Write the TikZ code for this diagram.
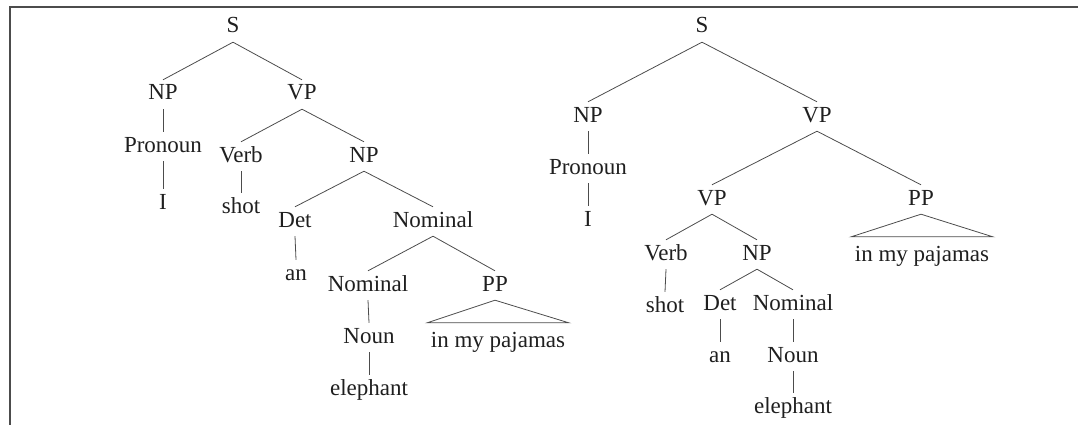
\documentclass[tikz,border=0pt]{standalone}
\usepackage{fontspec}
\newfontfamily\treefont{Liberation Serif}
\begin{document}
\begin{tikzpicture}[x=1pt,y=-1pt,
  tn/.style={anchor=base, text height=15pt, text depth=4pt, inner xsep=1pt, inner ysep=5pt,
    font=\treefont\fontsize{23}{27}\selectfont, text=black!88},
  trileaf/.style={tn, text height=19pt, inner xsep=3.5pt},
  edge/.style={draw=black!70, line width=0.8pt},
  frame/.style={draw=black!70, line width=1.4pt}]
\useasboundingbox (0,0) rectangle (1078,425);
\coordinate (fa) at (10,425);
\coordinate (fb) at (10,7);
\coordinate (fc) at (1078,7);
\draw[frame] (fa) -- (fb) -- (fc);

% left tree
\node[tn] (S1) at (233,33) {S};
\node[tn] (NP1) at (163,100) {NP};
\node[tn] (VP1) at (302,100) {VP};
\node[tn] (Pron1) at (163,152) {Pronoun};
\node[tn] (I1) at (163,209) {I};
\node[tn] (Verb1) at (241,162) {Verb};
\node[tn] (shot1) at (241,213) {shot};
\node[tn] (NP1b) at (364,162) {NP};
\node[tn] (Det1) at (295,227) {Det};
\node[tn] (an1) at (296,280) {an};
\node[tn] (Nom1) at (433,227) {Nominal};
\node[tn] (Nom1b) at (368,291) {Nominal};
\node[tn] (PP1) at (495,291) {PP};
\node[tn] (Noun1) at (369,343) {Noun};
\node[tn] (El1) at (369,395) {elephant};
\node[trileaf] (PJ1) at (498,347) {in my pajamas};

\draw[edge] (S1.south) -- (NP1.north);
\draw[edge] (S1.south) -- (VP1.north);
\draw[edge] (NP1.south) -- (Pron1.north);
\draw[edge] (Pron1.south) -- (I1.north);
\draw[edge] (VP1.south) -- (Verb1.north);
\draw[edge] (VP1.south) -- (NP1b.north);
\draw[edge] (Verb1.south) -- (shot1.north);
\draw[edge] (NP1b.south) -- (Det1.north);
\draw[edge] (NP1b.south) -- (Nom1.north);
\draw[edge] (Det1.south) -- (an1.north);
\draw[edge] (Nom1.south) -- (Nom1b.north);
\draw[edge] (Nom1.south) -- (PP1.north);
\draw[edge] (Nom1b.south) -- (Noun1.north);
\draw[edge] (Noun1.south) -- (El1.north);
\draw[edge] (PP1.south) -- (PJ1.north west) -- (PJ1.north east) -- cycle;

% right tree
\node[tn] (S2) at (702,33) {S};
\node[tn] (NP2) at (588,122) {NP};
\node[tn] (VP2) at (817,122) {VP};
\node[tn] (Pron2) at (588,174) {Pronoun};
\node[tn] (I2) at (588,226) {I};
\node[tn] (VP2b) at (712,205) {VP};
\node[tn] (PP2) at (921,205) {PP};
\node[trileaf] (PJ2) at (922,261) {in my pajamas};
\node[tn] (Verb2) at (666,260) {Verb};
\node[tn] (NP2b) at (757,260) {NP};
\node[tn] (shot2) at (665,312) {shot};
\node[tn] (Det2) at (720,310) {Det};
\node[tn] (Nom2) at (793,310) {Nominal};
\node[tn] (an2) at (720,362) {an};
\node[tn] (Noun2) at (793,362) {Noun};
\node[tn] (El2) at (793,413) {elephant};

\draw[edge] (S2.south) -- (NP2.north);
\draw[edge] (S2.south) -- (VP2.north);
\draw[edge] (NP2.south) -- (Pron2.north);
\draw[edge] (Pron2.south) -- (I2.north);
\draw[edge] (VP2.south) -- (VP2b.north);
\draw[edge] (VP2.south) -- (PP2.north);
\draw[edge] (PP2.south) -- (PJ2.north west) -- (PJ2.north east) -- cycle;
\draw[edge] (VP2b.south) -- (Verb2.north);
\draw[edge] (VP2b.south) -- (NP2b.north);
\draw[edge] (Verb2.south) -- (shot2.north);
\draw[edge] (NP2b.south) -- (Det2.north);
\draw[edge] (NP2b.south) -- (Nom2.north);
\draw[edge] (Det2.south) -- (an2.north);
\draw[edge] (Nom2.south) -- (Noun2.north);
\draw[edge] (Noun2.south) -- (El2.north);
\end{tikzpicture}
\end{document}
